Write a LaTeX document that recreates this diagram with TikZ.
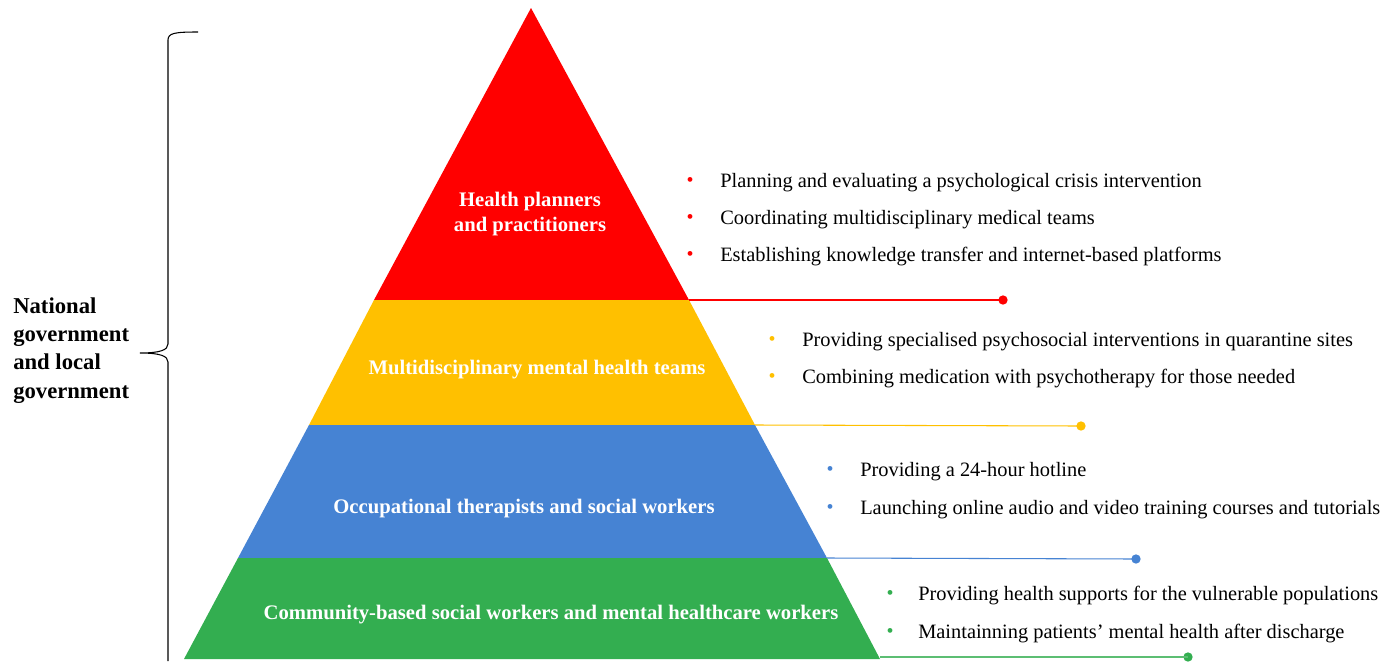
\documentclass[tikz,border=0pt]{standalone}
\usepackage{fontspec}
\setmainfont{Liberation Serif}
\begin{document}
\begin{tikzpicture}[x=0.75pt,y=-0.75pt,
  lab/.style={text=white,font=\fontsize{15.5}{18.75}\selectfont\bfseries,align=center},
  item/.style={anchor=west,font=\fontsize{15.3}{17}\selectfont,inner sep=0pt,yshift=-2.2pt},
  bul/.style={anchor=center,font=\fontsize{15}{16}\selectfont,inner sep=0pt,yshift=-1.5pt},
  conn/.style={line width=0.8pt},
  dotn/.style={circle,inner sep=0pt,minimum size=7pt}]
\definecolor{cred}{HTML}{FF0000}
\definecolor{cyel}{HTML}{FFC000}
\definecolor{cblu}{HTML}{4683D3}
\definecolor{cgrn}{HTML}{33AE50}
\useasboundingbox (0,0) rectangle (1400,661);
% corners
\coordinate (A) at (531,8);
\coordinate (R1) at (374,300); \coordinate (R2) at (689,300);
\coordinate (Y1) at (309,425); \coordinate (Y2) at (755,425);
\coordinate (B1) at (238,558); \coordinate (B2) at (827,558);
\coordinate (G1) at (184,659); \coordinate (G2) at (880,659);
\fill[cred] (A) -- (R2) -- (R1) -- cycle;
\fill[cyel] (R1) -- (R2) -- (Y2) -- (Y1) -- cycle;
\fill[cblu] (Y1) -- (Y2) -- (B2) -- (B1) -- cycle;
\fill[cgrn] (B1) -- (B2) -- (G2) -- (G1) -- cycle;
% layer labels
\node[lab] (l1) at (530,214) {Health planners\\and practitioners};
\node[lab] (l2) at (537,370) {Multidisciplinary mental health teams};
\node[lab] (l3) at (524,509) {Occupational therapists and social workers};
\node[lab] (l4) at (551,615) {Community-based social workers and mental healthcare workers};
% connectors and dots
\node[dotn,fill=cred] (d1) at (1003,300) {};
\node[dotn,fill=cyel] (d2) at (1081,426) {};
\node[dotn,fill=cblu] (d3) at (1136,559) {};
\node[dotn,fill=cgrn] (d4) at (1188,657) {};
\draw[conn,cred] (R2) -- (d1.center);
\draw[conn,cyel] (Y2) -- (d2.center);
\draw[conn,cblu] (B2) -- (d3.center);
\draw[conn,cgrn!80] (880,657) -- (d4.center);
% bullets red
\node[bul,cred] (b11) at (690,180) {•}; \node[item] (t11) at (720,180) {Planning and evaluating a psychological crisis intervention};
\node[bul,cred] (b12) at (690,217) {•}; \node[item] (t12) at (720,217) {Coordinating multidisciplinary medical teams};
\node[bul,cred] (b13) at (690,254) {•}; \node[item] (t13) at (720,254) {Establishing knowledge transfer and internet-based platforms};
% yellow
\node[bul,cyel] (b21) at (772,339) {•}; \node[item] (t21) at (802,339) {Providing specialised psychosocial interventions in quarantine sites};
\node[bul,cyel] (b22) at (772,376) {•}; \node[item] (t22) at (802,376) {Combining medication with psychotherapy for those needed};
% blue
\node[bul,cblu] (b31) at (830,469) {•}; \node[item] (t31) at (860,469) {Providing a 24-hour hotline};
\node[bul,cblu] (b32) at (830,507) {•}; \node[item] (t32) at (860,507) {Launching online audio and video training courses and tutorials};
% green
\node[bul,cgrn] (b41) at (890,593) {•}; \node[item] (t41) at (918,593) {Providing health supports for the vulnerable populations};
\node[bul,cgrn] (b42) at (890,631) {•}; \node[item] (t42) at (918,631) {Maintainning patients' mental health after discharge};
% brace
\draw[line width=0.8pt] (198,32) .. controls (175,32) and (168,33) .. (168,40)
  -- (168,344) .. controls (168,350) and (160,353) .. (140,353)
  .. controls (160,353) and (168,356) .. (168,362) -- (168,661);
\node[anchor=north west,align=left,inner sep=0pt,font=\fontsize{17}{21.3}\selectfont\bfseries] (gov) at (13,297) {National\\government\\and local\\government};
\end{tikzpicture}
\end{document}
